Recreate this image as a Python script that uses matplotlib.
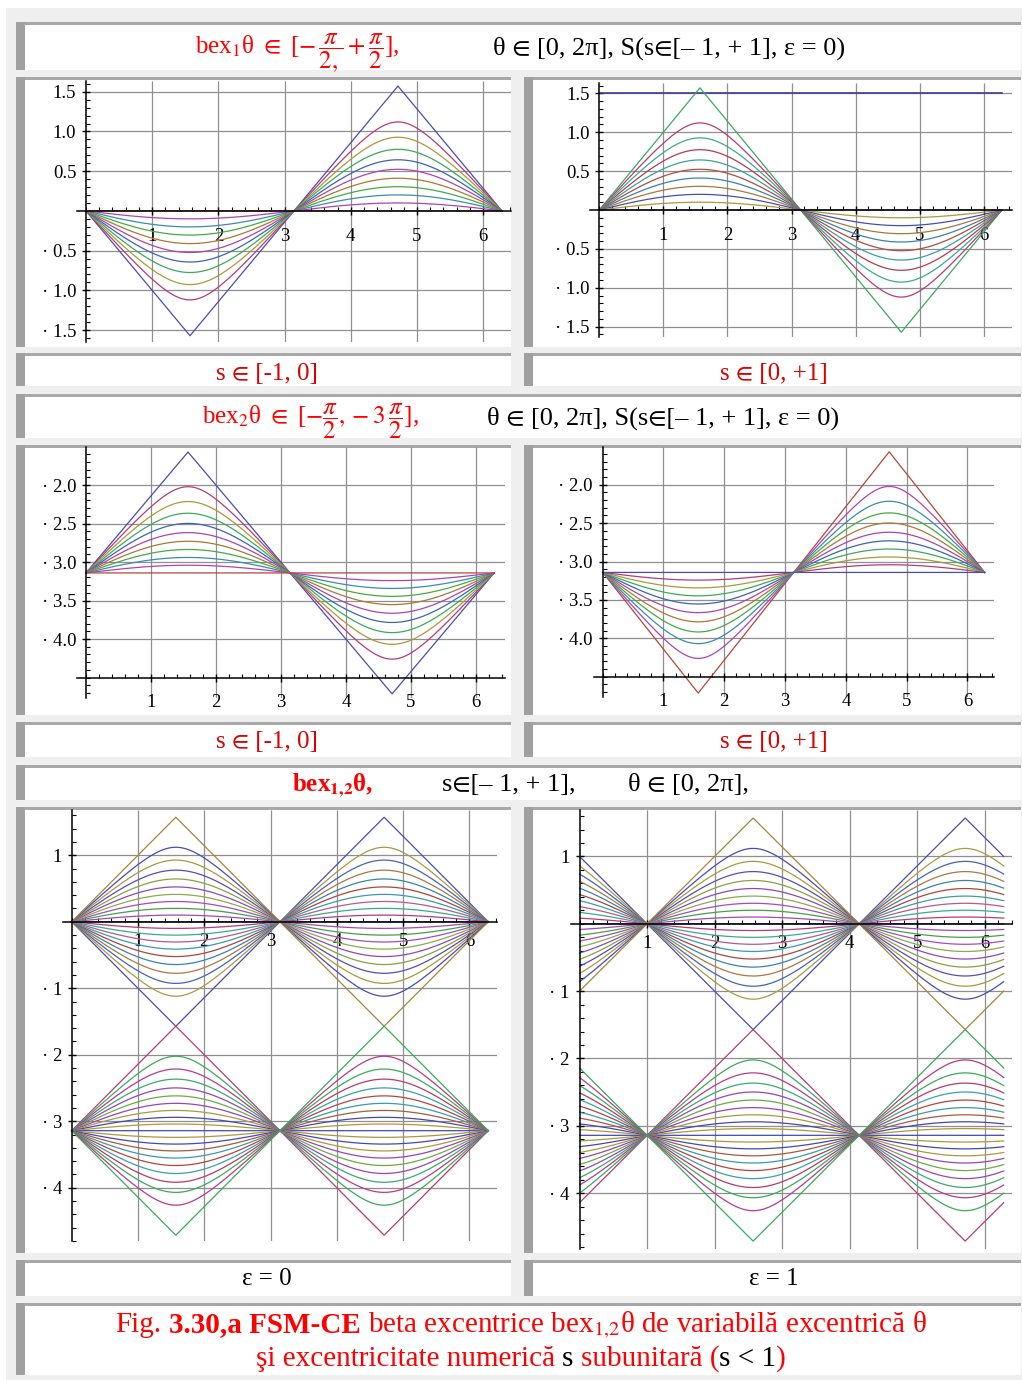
import numpy as np
import matplotlib.pyplot as plt
from matplotlib.patches import Rectangle
from matplotlib.ticker import MultipleLocator

plt.rcParams['font.family'] = ['Liberation Serif', 'STIXGeneral', 'DejaVu Serif']
plt.rcParams['mathtext.fontset'] = 'stix'

W, H = 1022, 1380

# eccentricity values of the curve families
s_neg = [-1.0, -0.9, -0.8, -0.7, -0.6, -0.5, -0.4, -0.3, -0.2, -0.1, 0.0]
s_pos = [1.0, 0.9, 0.8, 0.7, 0.6, 0.5, 0.4, 0.3, 0.2, 0.1, 0.0]
s_all = [-1.0, -0.9, -0.8, -0.7, -0.6, -0.5, -0.4, -0.3, -0.2, -0.1, 0.0,
         0.1, 0.2, 0.3, 0.4, 0.5, 0.6, 0.7, 0.8, 0.9, 1.0]
eps_left, eps_right = 0.0, 1.0
level_line = 1.5

x_ticks = [1, 2, 3, 4, 5, 6]
y_ticks_top = [-1.5, -1.0, -0.5, 0.5, 1.0, 1.5]
y_labels_top = ['· 1.5', '· 1.0', '· 0.5', '0.5', '1.0', '1.5']
y_ticks_mid = [-4.0, -3.5, -3.0, -2.5, -2.0]
y_labels_mid = ['· 4.0', '· 3.5', '· 3.0', '· 2.5', '· 2.0']
y_ticks_bot = [-4, -3, -2, -1, 1]
y_labels_bot = ['· 4', '· 3', '· 2', '· 1', '1']

# maple-like colours
pal = ['#4b4bb4', '#b43c78', '#aa9a3c', '#3caa5a', '#3c64b4', '#aa46aa',
       '#aa7837', '#46aa46', '#3c8caa', '#aa46b4', '#b4463c']
pal_tr = ['#3caa5a', '#b43c78', '#3caa8c', '#b43c50', '#3ca0a0', '#aa503c',
          '#3c82aa', '#aa783c', '#4650b4', '#aa9a3c', '#4b4bb4']
line_col = '#3c3c96'
up_cols = ['#4b4bb4', '#aa9a46', '#4664b4', '#aa7846', '#3c82aa', '#aa463c',
           '#3c9aaa', '#b45a8c', '#3caa8c', '#b43c78', '#4b4bb4', '#a04bb4',
           '#46a046', '#a050b4', '#8caa50', '#8c4bb4', '#8ca046', '#5a4bb4',
           '#a89a3c', '#4b4bb4', '#a8843c']
low_cols = ['#b43c78', '#3caa5a', '#b43c8c', '#3caa6e', '#9646b4', '#6eaa46',
            '#9646b4', '#aa9a3c', '#4646b4', '#aa9a3c', '#4646b4', '#aa9a3c',
            '#4646b4', '#aa5a3c', '#3c9aaa', '#b4463c', '#3ca0aa', '#b43c64',
            '#3caa5a', '#b43c8c', '#3caa5a']

RED = '#ff0000'
RED2 = '#dd0000'

theta = np.linspace(0, 2 * np.pi, 2001)


def bex1(th, s, eps):
    return np.arcsin(s * np.sin(th - eps))


def bex2(th, s, eps):
    return -np.pi - np.arcsin(s * np.sin(th - eps))


fig = plt.figure(figsize=(W / 100, H / 100), dpi=100)
bg = fig.add_axes([0, 0, 1, 1])
bg.set_xlim(0, W)
bg.set_ylim(H, 0)
bg.axis('off')

bg.add_patch(Rectangle((6, 8), W - 6, H - 8, color='#efefef', lw=0))


def cell(x0, x1, y0, y1):
    bg.add_patch(Rectangle((x0, y0), x1 - x0, y1 - y0, color='white', lw=0))
    bg.add_patch(Rectangle((x0, y0), x1 - x0, 2.5, color='#a8a8a8', lw=0))
    bg.add_patch(Rectangle((x0, y0), 9, y1 - y0, color='#a0a0a0', lw=0))


L0, L1, R0, R1 = 16, 511, 524, 1021
cell(L0, R1, 22, 70)
cell(L0, L1, 77, 347); cell(R0, R1, 77, 347)
cell(L0, L1, 353, 386); cell(R0, R1, 353, 386)
cell(L0, R1, 394, 438)
cell(L0, L1, 445, 715); cell(R0, R1, 445, 715)
cell(L0, L1, 722, 757); cell(R0, R1, 722, 757)
cell(L0, R1, 765, 800)
cell(L0, L1, 807, 1253); cell(R0, R1, 807, 1253)
cell(L0, L1, 1260, 1296); cell(R0, R1, 1260, 1296)
cell(L0, R1, 1303, 1375)

renderer = fig.canvas.get_renderer()


def runs(parts, x, y, size, center=False):
    objs, gaps = [], []
    for txt, col, wt, gap in parts:
        t = bg.text(0, y, txt, color=col, fontweight=wt, fontsize=size,
                    ha='left', va='baseline')
        objs.append(t)
        gaps.append(gap * size * 100 / 72)
    widths = [t.get_window_extent(renderer).width for t in objs]
    total = sum(widths) + sum(gaps[:-1])
    xc = x - total / 2 if center else x
    for t, w, g in zip(objs, widths, gaps):
        t.set_x(xc)
        xc += w + g


HS = 19
LS = 18
runs([(r"bex$_1$θ $\in$ [$-\,\dfrac{\pi}{2,}+\dfrac{\pi}{2}$],", RED, 'normal', 0)], 195, 54, 18)
runs([("θ ∈ [0, 2π], S(s∈[– 1, + 1], ε = 0)", 'black', 'normal', 0)], 493, 55, HS)
runs([(r"bex$_2$θ $\in$ [$-\dfrac{\pi}{2}, -3\,\dfrac{\pi}{2}$],", RED, 'normal', 0)], 202, 424, 18)
runs([("θ ∈ [0, 2π], S(s∈[– 1, + 1], ε = 0)", 'black', 'normal', 0)], 487, 425, HS)
runs([(r"bex$_{\mathbf{1{,}2}}$θ,", RED, 'bold', 0)], 292, 791, LS)
runs([("s∈[– 1, + 1],", 'black', 'normal', 0)], 442, 791, HS)
runs([("θ ∈ [0, 2π],", 'black', 'normal', 0)], 628, 791, HS)

for yb, lt, rt, col in [(380, "s ∈ [-1, 0]", "s ∈ [0, +1]", RED2),
                        (748, "s ∈ [-1, 0]", "s ∈ [0, +1]", RED2),
                        (1285, "ε = 0", "ε = 1", 'black')]:
    runs([(lt, col, 'normal', 0)], 267, yb, LS, center=True)
    runs([(rt, col, 'normal', 0)], 774, yb, LS, center=True)

CS = 21
runs([("Fig.", RED, 'normal', 0.25), ("3.30,a FSM-CE", RED, 'bold', 0.25),
      (r"beta excentrice bex$_{1{,}2}$θ de variabilă excentrică θ", RED, 'normal', 0)],
     521, 1332, CS, center=True)
runs([("şi excentricitate numerică", RED, 'normal', 0.25), ("s", 'black', 'normal', 0.25),
      ("subunitară (", RED, 'normal', 0), ("s < 1", 'black', 'normal', 0),
      (")", RED, 'normal', 0)],
     521, 1366, CS, center=True)


def panel(box, xlim, ylim, yticks, ylabels, yminor, xaxis_at, xpad):
    left, right, top, bottom = box
    ax = fig.add_axes([left / W, 1 - bottom / H, (right - left) / W, (bottom - top) / H])
    ax.patch.set_alpha(0)
    ax.set_xlim(xlim)
    ax.set_ylim(ylim)
    for sp in ['top', 'right']:
        ax.spines[sp].set_visible(False)
    ax.spines['left'].set_position(('data', 0))
    ax.spines['bottom'].set_position(('data', xaxis_at))
    for sp in ['left', 'bottom']:
        ax.spines[sp].set_linewidth(1.1)
    ax.set_xticks(x_ticks)
    ax.set_xticklabels([str(v) for v in x_ticks])
    ax.xaxis.set_minor_locator(MultipleLocator(0.2))
    ax.set_yticks(yticks)
    ax.set_yticklabels(ylabels)
    ax.yaxis.set_minor_locator(MultipleLocator(yminor))
    ax.tick_params(which='major', direction='inout', length=6, width=1, labelsize=13.5)
    ax.tick_params(which='minor', direction='in', length=3, width=0.8)
    ax.tick_params(axis='x', pad=xpad)
    ax.tick_params(axis='y', pad=4)
    ax.vlines(x_ticks, ylim[0], ylim[1], colors='#8f8f8f', lw=0.9, zorder=0)
    ax.hlines(yticks, 0, xlim[1], colors='#8f8f8f', lw=0.9, zorder=0)
    return ax


# s in [-1, 0], bex1
ax = panel((77, 511, 81, 342), (-0.136, 6.42), (-1.65, 1.635),
           y_ticks_top, y_labels_top, 0.1, 0, 9)
for s, c in zip(s_neg, pal):
    ax.plot(theta, bex1(theta, s, eps_left), color=c, lw=0.9)

# s in [0, 1], bex1
ax = panel((590, 1012, 83, 337), (-0.145, 6.44), (-1.633, 1.633),
           y_ticks_top, y_labels_top, 0.1, 0, 9)
ax.plot([0, 2 * np.pi], [level_line, level_line], color=line_col, lw=1.2)
for s, c in zip(s_pos, pal_tr):
    ax.plot(theta, bex1(theta, s, eps_left), color=c, lw=0.9)

# s in [-1, 0], bex2
ax = panel((77, 505, 447, 698), (-0.138, 6.45), (-4.766, -1.506),
           y_ticks_mid, y_labels_mid, 0.1, -4.5, 9)
for s, c in zip(s_neg, pal):
    ax.plot(theta, bex2(theta, s, eps_left), color=c, lw=0.9)

# s in [0, 1], bex2
ax = panel((594, 994, 447, 697), (-0.143, 6.436), (-4.764, -1.508),
           y_ticks_mid, y_labels_mid, 0.1, -4.5, 9)
for s, c in zip(s_pos, pal[::-1]):
    ax.plot(theta, bex2(theta, s, eps_left), color=c, lw=0.9)

# both families, eps = 0 and eps = 1
for box, xlim, ylim, eps in [((63, 497, 810, 1241), (-0.131, 6.415), (-4.80, 1.68), eps_left),
                             ((571, 1012, 810, 1249), (-0.127, 6.406), (-4.83, 1.69), eps_right)]:
    ax = panel(box, xlim, ylim, y_ticks_bot, y_labels_bot, 0.2, 0, 5)
    for s, c in zip(s_all, up_cols):
        ax.plot(theta, bex1(theta, s, eps), color=c, lw=0.9)
    for s, c in zip(s_all, low_cols):
        ax.plot(theta, bex2(theta, s, eps), color=c, lw=0.9)

fig.savefig('out.png', dpi=100)
